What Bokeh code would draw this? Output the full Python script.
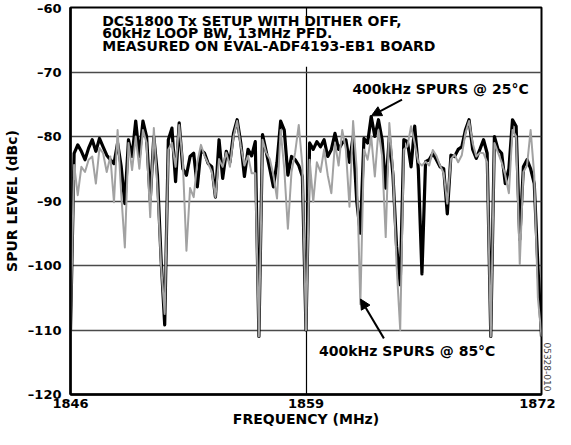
import numpy as np
from bokeh.plotting import figure
from bokeh.models import (FixedTicker, Label, Arrow, NormalHead, BoxAnnotation, Range1d, Title)
from bokeh.embed import file_html
from bokeh.resources import INLINE

# ---- data -------------------------------------------------------------
freq_start = 1846.0      # MHz, first channel
channel_step = 0.2       # MHz, DCS1800 channel raster

spur_25C = [
    -110.0, -82.6, -81.3, -82.3, -83.6, -81.8, -80.5, -82.3, -80.3, -81.6,
    -82.9, -83.6, -84.2, -81.0, -84.7, -90.4, -80.5, -83.1, -77.6, -83.1,
    -77.6, -80.0, -89.9, -80.0, -86.0, -99.0, -109.2, -80.5, -78.7, -87.0,
    -77.9, -85.0, -86.0, -83.1, -82.6, -87.8, -82.1, -82.6, -84.2, -84.7,
    -89.4, -80.5, -86.5, -82.3, -84.0, -79.5, -77.4, -81.0, -86.2, -82.0,
    -83.0, -80.8, -111.0, -79.7, -82.3, -85.0, -87.8, -84.0, -77.6, -79.0,
    -86.0, -83.1, -83.6, -84.5, -86.2, -110.0, -81.0, -82.0, -80.8, -81.6,
    -80.5, -83.1, -82.0, -79.5, -82.0, -81.0, -80.5, -84.0, -80.0, -90.0,
    -95.0, -80.3, -81.0, -76.9, -80.0, -77.4, -80.5, -88.0, -80.0, -86.0,
    -97.0, -103.0, -80.5, -80.8, -84.7, -78.4, -85.0, -101.3, -83.9, -83.6,
    -82.6, -83.6, -84.7, -85.0, -92.0, -82.9, -83.1, -82.0, -81.6, -79.0,
    -77.4, -82.0, -83.4, -82.0, -80.5, -82.6, -111.0, -80.0, -82.0, -82.6,
    -87.3, -85.0, -77.4, -78.4, -96.0, -84.7, -83.6, -85.0, -87.3, -100.0,
    -111.0,
]

spur_85C = [
    -110.0, -84.4, -89.1, -84.7, -85.5, -83.6, -83.1, -87.3, -81.8, -82.6,
    -85.5, -83.1, -90.2, -79.0, -88.9, -97.2, -81.0, -85.2, -80.0, -85.0,
    -79.0, -81.0, -92.5, -78.7, -88.0, -100.0, -107.5, -82.0, -81.0, -84.7,
    -78.2, -84.0, -97.7, -88.0, -89.4, -84.0, -81.3, -83.0, -84.2, -85.5,
    -89.4, -83.5, -84.7, -82.5, -84.7, -80.0, -77.6, -81.5, -84.5, -83.0,
    -85.7, -85.7, -111.0, -80.5, -82.5, -83.5, -86.0, -89.6, -79.0, -85.0,
    -94.3, -85.5, -82.5, -78.2, -84.5, -110.0, -83.6, -90.1, -84.0, -85.5,
    -82.0, -86.0, -88.8, -81.0, -84.5, -79.0, -82.0, -90.9, -77.6, -85.0,
    -106.0, -82.0, -83.6, -80.0, -86.2, -79.0, -83.0, -95.6, -77.9, -85.0,
    -100.0, -110.0, -82.0, -81.5, -78.4, -81.0, -84.0, -84.5, -83.9, -84.5,
    -82.1, -83.0, -84.5, -85.7, -90.4, -83.5, -82.8, -84.0, -82.9, -79.5,
    -77.6, -81.0, -83.1, -82.5, -82.6, -84.0, -111.0, -81.0, -82.5, -84.0,
    -86.0, -88.8, -79.0, -80.0, -99.8, -85.5, -84.5, -79.0, -86.0, -105.0,
    -111.0,
]

freq = [round(freq_start + channel_step * i, 1) for i in range(len(spur_25C))]

x_ticks = [1846, 1859, 1872]
y_ticks = [-120, -110, -100, -90, -80, -70, -60]
y_tick_labels = ["\u2013120", "\u2013110", "\u2013100", "\u201390", "\u201380", "\u201370", "\u201360"]

title_lines = ["DCS1800 Tx SETUP WITH DITHER OFF,",
               "60kHz LOOP BW, 13MHz PFD.",
               "MEASURED ON EVAL-ADF4193-EB1 BOARD"]
note_25 = "400kHz SPURS @ 25\u00b0C"
note_85 = "400kHz SPURS @ 85\u00b0C"
fig_id = "05328-010"

FONT = "DejaVu Sans"

# ---- figure -----------------------------------------------------------
p = figure(width=555, height=429, output_backend="svg", toolbar_location=None,
           x_range=Range1d(1846, 1872), y_range=Range1d(-120, -60),
           min_border_left=64, min_border_right=2, min_border_top=7,
           min_border_bottom=30, background_fill_color="white")

p.outline_line_color = "black"
p.outline_line_width = 2

for ax in (p.xaxis[0], p.yaxis[0]):
    ax.major_tick_out = 0
    ax.major_tick_in = 0
    ax.minor_tick_out = 0
    ax.minor_tick_in = 0
    ax.axis_line_color = "black"
    ax.axis_line_width = 2.5
    ax.major_label_text_font = FONT
    ax.major_label_text_font_style = "bold"
    ax.major_label_text_font_size = "13px"
    ax.major_label_text_color = "black"
    ax.axis_label_text_font = FONT
    ax.axis_label_text_font_style = "bold"
    ax.axis_label_text_font_size = "14px"
    ax.axis_label_text_color = "black"

p.xaxis.ticker = FixedTicker(ticks=x_ticks)
p.yaxis.ticker = FixedTicker(ticks=y_ticks)
p.yaxis.major_label_overrides = {t: l for t, l in zip(y_ticks, y_tick_labels)}
p.xaxis.axis_label = "FREQUENCY (MHz)"
p.yaxis.axis_label = "SPUR LEVEL (dBc)"
p.xaxis.major_label_standoff = 4
p.xaxis.axis_label_standoff = 0
p.yaxis.major_label_standoff = 9
p.yaxis.axis_label_standoff = 5

p.ygrid.ticker = FixedTicker(ticks=y_ticks)
p.ygrid.grid_line_color = "#4a4a4a"
p.ygrid.grid_line_width = 1.5
p.xgrid.ticker = FixedTicker(ticks=[1859])
p.xgrid.grid_line_color = "black"
p.xgrid.grid_line_width = 1.2

p.line(freq, spur_25C, line_color="black", line_width=3.2, line_join="round")
p.line(freq, spur_85C, line_color="#a2a2a2", line_width=2, line_join="round")

# white box behind the setup text
p.add_layout(BoxAnnotation(left=1847.5, right=1867.0, top=-61.5, bottom=-69.2,
                           fill_color="white", fill_alpha=1.0, line_alpha=0))

for txt, yy in zip(title_lines, [-62.1, -64.0, -65.9]):
    p.add_layout(Label(x=1847.75, y=yy, text=txt, text_font=FONT,
                       text_font_style="bold", text_font_size="14px",
                       text_baseline="middle", text_align="left", text_color="black"))

p.add_layout(Label(x=1861.56, y=-72.6, text=note_25, text_font=FONT,
                   text_font_style="bold", text_font_size="14px",
                   text_baseline="middle", text_align="left", text_color="black"))
p.add_layout(Label(x=1859.72, y=-113.3, text=note_85, text_font=FONT,
                   text_font_style="bold", text_font_size="14px",
                   text_baseline="middle", text_align="left", text_color="black"))

p.add_layout(Arrow(x_start=1864.3, y_start=-74.3, x_end=1862.61, y_end=-76.8,
                   line_width=2, line_color="black",
                   end=NormalHead(size=10, fill_color="black", line_color="black")))
p.add_layout(Arrow(x_start=1863.3, y_start=-111.3, x_end=1862.01, y_end=-105.2,
                   line_width=2, line_color="black",
                   end=NormalHead(size=10, fill_color="black", line_color="black")))

# small figure code at the right edge, beside the bottom of the frame
p.add_layout(Title(text=fig_id, align="right", offset=3, standoff=5,
                   text_font=FONT, text_font_size="9px", text_font_style="normal",
                   text_color="#444444"), "right")

open("out.html", "w").write(file_html(p, INLINE))
